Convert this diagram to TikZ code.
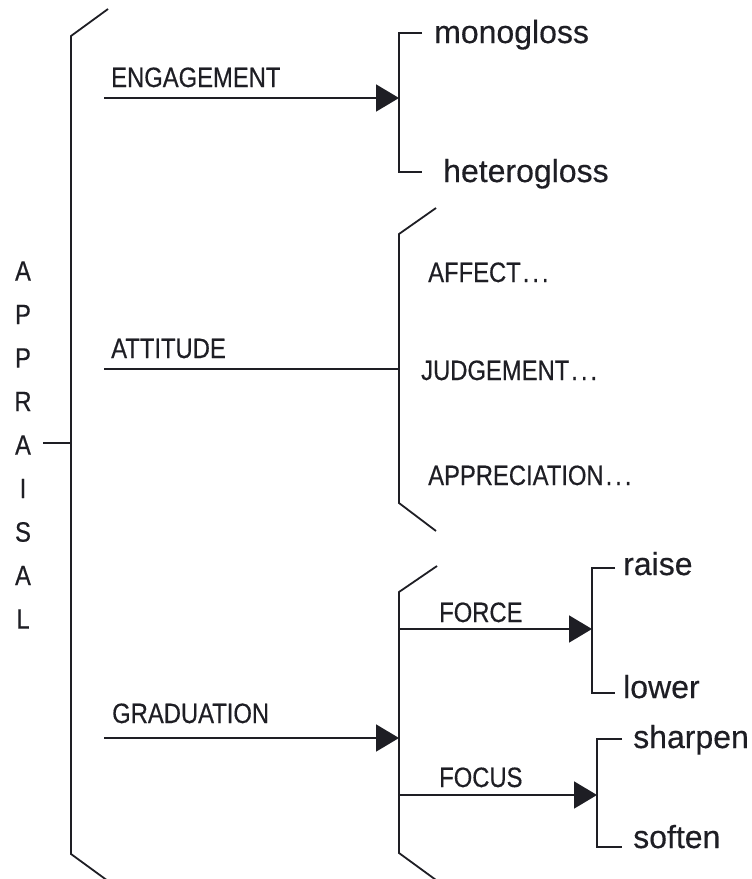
\documentclass[tikz,border=0pt]{standalone}
\usepackage{fontspec}
\setmainfont{Liberation Sans}[FakeBold=0.4]
\newfontfamily\capsf{Liberation Sans}[FakeStretch=0.85,FakeBold=0.4]
\usetikzlibrary{arrows.meta}
\definecolor{ink}{HTML}{1E1E24}
\newcommand{\spdots}{\kern2bp.\kern3bp.\kern3bp.}
\begin{document}
\begin{tikzpicture}[x=1bp,y=-1bp,
  ln/.style={line width=1.8bp, draw=ink},
  arr/.style={ln, -{Triangle[length=23bp,width=27bp]}},
  capslab/.style={inner sep=0, anchor=base west, text=ink, font=\capsf\fontsize{28bp}{28bp}\selectfont},
  lowlab/.style={inner sep=0, anchor=base west, text=ink, font=\fontsize{32bp}{32bp}\selectfont},
  vletter/.style={inner sep=0, anchor=center, text=ink, font=\capsf\fontsize{28bp}{28bp}\selectfont}]
\useasboundingbox (0,0) rectangle (752,879);
\begin{scope}
\clip (0,0) rectangle (752,879);
% brackets
\coordinate (b1a) at (108,9); \coordinate (b1b) at (71,36);
\coordinate (b1c) at (71,854); \coordinate (b1d) at (108,881);
\draw[ln] (b1a) -- (b1b) -- (b1c) -- (b1d);
\coordinate (b2a) at (436,208); \coordinate (b2b) at (399,234);
\coordinate (b2c) at (399,503); \coordinate (b2d) at (436,531);
\draw[ln] (b2a) -- (b2b) -- (b2c) -- (b2d);
\coordinate (b3a) at (437,566); \coordinate (b3b) at (399,592);
\coordinate (b3c) at (399,853); \coordinate (b3d) at (436,880);
\draw[ln] (b3a) -- (b3b) -- (b3c) -- (b3d);
\end{scope}
% small square brackets
\coordinate (e1) at (422,33); \coordinate (e2) at (399,33);
\coordinate (e3) at (399,172); \coordinate (e4) at (422,172);
\draw[ln] (e1) -- (e2) -- (e3) -- (e4);
\coordinate (f1) at (615,568); \coordinate (f2) at (592,568);
\coordinate (f3) at (592,693); \coordinate (f4) at (615,693);
\draw[ln] (f1) -- (f2) -- (f3) -- (f4);
\coordinate (s1) at (622,739); \coordinate (s2) at (597,739);
\coordinate (s3) at (597,847); \coordinate (s4) at (622,847);
\draw[ln] (s1) -- (s2) -- (s3) -- (s4);
% APPRAISAL letters
\foreach \L [count=\i from 0] in {A,P,P,R,A,I,S,A,L}
  \node[vletter] (ap\i) at (23,{271+43.5*\i}) {\L};
\coordinate (tickA) at (43,443); \coordinate (tickB) at (71,443);
\draw[ln] (tickA) -- (tickB);
% system lines
\coordinate (engS) at (104,98); \coordinate (engE) at (399,98);
\draw[arr] (engS) -- (engE);
\coordinate (attS) at (104,369); \coordinate (attE) at (399,369);
\draw[ln] (attS) -- (attE);
\coordinate (graS) at (104,738); \coordinate (graE) at (399,738);
\draw[arr] (graS) -- (graE);
\coordinate (forS) at (399,629); \coordinate (forE) at (592,629);
\draw[arr] (forS) -- (forE);
\coordinate (focS) at (399,795); \coordinate (focE) at (597,795);
\draw[arr] (focS) -- (focE);
% labels
\node[capslab] (eng) at (111,87) {ENGAGEMENT};
\node[capslab] (att) at (111,358) {ATTITUDE};
\node[capslab] (gra) at (112,723) {GRADUATION};
\node[capslab] (aff) at (428,282) {AFFECT\spdots};
\node[capslab] (jud) at (421,380) {JUDGEMENT\spdots};
\node[capslab] (app) at (428,485) {APPRECIATION\spdots};
\node[capslab] (for) at (439,622) {FORCE};
\node[capslab] (foc) at (439,787) {FOCUS};
\node[lowlab] (mono) at (434,43) {monogloss};
\node[lowlab] (hete) at (443,182) {heterogloss};
\node[lowlab] (rais) at (623,575) {raise};
\node[lowlab] (lowe) at (623,698) {lower};
\node[lowlab] (shar) at (633,748) {sharpen};
\node[lowlab] (soft) at (633,848) {soften};
\end{tikzpicture}
\end{document}
